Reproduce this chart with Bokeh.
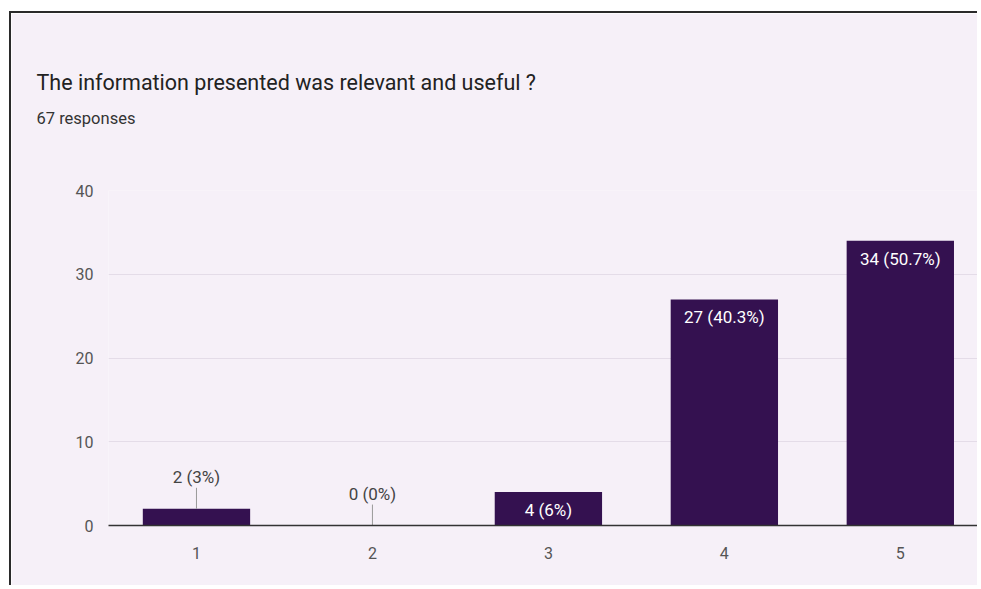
from bokeh.plotting import figure
from bokeh.models import ColumnDataSource, Title, Range1d, FixedTicker
from bokeh.core.properties import value
from bokeh.embed import file_html
from bokeh.resources import INLINE

# ---- data ----
categories = [1, 2, 3, 4, 5]
counts = [2, 0, 4, 27, 34]
percents = ["3%", "0%", "6%", "40.3%", "50.7%"]
y_ticks = [0, 10, 20, 30, 40]
title_text = "The information presented was relevant and useful ?"
subtitle_text = "67 responses"

BG = "#f6f0f8"
BAR = "#341150"
FONT = "Roboto"

labels = [f"{c} ({p})" for c, p in zip(counts, percents)]
inside_idx = [i for i, c in enumerate(counts) if c >= 4]
outside_idx = [i for i, c in enumerate(counts) if c < 4]

bars = ColumnDataSource(dict(x=categories, top=counts))
in_src = ColumnDataSource(dict(x=[categories[i] for i in inside_idx],
                               y=[counts[i] for i in inside_idx],
                               t=[labels[i] for i in inside_idx]))
out_src = ColumnDataSource(dict(x=[categories[i] for i in outside_idx],
                                y=[counts[i] for i in outside_idx],
                                y1=[counts[i] + 2.5 for i in outside_idx],
                                t=[labels[i] for i in outside_idx]))

p = figure(width=968, height=574, output_backend="svg", toolbar_location=None, title=None,
           x_range=Range1d(0.5, 5.45), y_range=Range1d(0, 40),
           min_border_left=97, min_border_right=0, min_border_top=0, min_border_bottom=62)
p.background_fill_color = BG
p.border_fill_color = BG
p.outline_line_color = None

p.vbar(x="x", top="top", width=0.61, source=bars, fill_color=BAR, line_color=None)

p.segment(x0="x", y0="y", x1="x", y1="y1", source=out_src, line_color="#9a9a9a", line_width=1)
p.text(x="x", y="y1", text="t", source=out_src, text_align="center", text_baseline="bottom",
       y_offset=-1, text_font=value(FONT), text_font_size="17px", text_color="#444444")
p.text(x="x", y="y", text="t", source=in_src, text_align="center", text_baseline="top",
       y_offset=8, text_font=value(FONT), text_font_size="17px", text_color="#ffffff")

p.xaxis.ticker = FixedTicker(ticks=categories)
p.xaxis.major_tick_line_color = None
p.xaxis.minor_tick_line_color = None
p.xaxis.axis_line_color = "#333333"
p.xaxis.axis_line_width = 1.5
p.xaxis.major_label_standoff = 15
p.xaxis.major_label_text_font = FONT
p.xaxis.major_label_text_font_size = "16px"
p.xaxis.major_label_text_color = "#555555"

p.yaxis.ticker = FixedTicker(ticks=y_ticks)
p.yaxis.major_tick_line_color = None
p.yaxis.minor_tick_line_color = None
p.yaxis.axis_line_color = None
p.yaxis.major_label_standoff = 9
p.yaxis.major_label_text_font = FONT
p.yaxis.major_label_text_font_size = "16px"
p.yaxis.major_label_text_color = "#555555"

p.xgrid.grid_line_color = None
p.ygrid.grid_line_color = "#e4dce8"

gap_below = Title(text=" ", align="left", standoff=53, text_font_size="1px")
sub = Title(text=subtitle_text, align="left", offset=-72, standoff=14,
            text_font=FONT, text_font_size="16.5px", text_color="#333333",
            text_font_style="normal")
ttl = Title(text=title_text, align="left", offset=-72, standoff=10,
            text_font=FONT, text_font_size="21.5px", text_color="#222222",
            text_font_style="normal")
gap_above = Title(text=" ", align="left", standoff=46, text_font_size="1px")
p.add_layout(gap_below, "above")
p.add_layout(sub, "above")
p.add_layout(ttl, "above")
p.add_layout(gap_above, "above")

p.styles = {"border-left": "2px solid #2a2a2a", "border-top": "2px solid #2a2a2a",
            "margin-left": "9px", "margin-top": "11px"}

open("out.html", "w").write(file_html(p, INLINE))
